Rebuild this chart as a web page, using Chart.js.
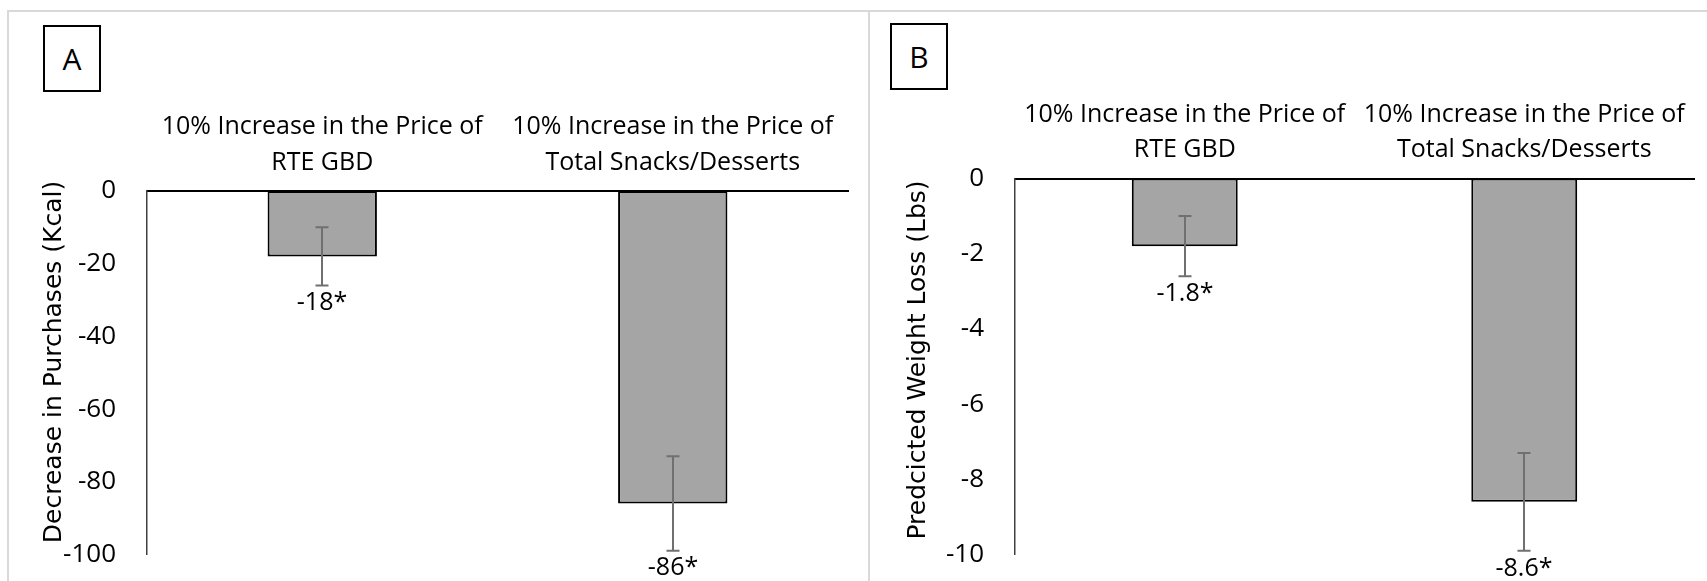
<!DOCTYPE html>
<html><head><meta charset="utf-8">
<script src="https://cdn.jsdelivr.net/npm/chart.js@4.4.0/dist/chart.umd.min.js"></script>
<style>
html,body{margin:0;padding:0;background:#fff;width:1707px;height:581px;overflow:hidden;position:relative}
.frame{position:absolute;background:#d9d9d9}
.tag{position:absolute;border:2.5px solid #000;box-sizing:border-box;font-family:'Open Sans',sans-serif;font-size:30px;display:flex;align-items:center;justify-content:center;background:#fff;color:#000}
canvas{position:absolute;top:0}
</style></head><body>
<canvas id="cA" width="869" height="581" style="left:0"></canvas>
<canvas id="cB" width="838" height="581" style="left:869px"></canvas>
<div class="frame" style="left:7px;top:10px;width:1700px;height:2px"></div>
<div class="frame" style="left:7px;top:10px;width:2px;height:571px"></div>
<div class="frame" style="left:868px;top:10px;width:2px;height:571px"></div>
<div class="tag" style="left:43px;top:25px;width:58px;height:67px">A</div>
<div class="tag" style="left:890px;top:23px;width:58px;height:67px">B</div>
<script>
// ---- data ----
const categories = [["10% Increase in the Price of", "RTE GBD"], ["10% Increase in the Price of", "Total Snacks/Desserts"]];
const kcalValues = [-18, -86];
const kcalErrors = [8, 13];
const kcalLabels = ["-18*", "-86*"];
const kcalAxis = {min: -100, max: 0, step: 20, title: "Decrease in Purchases (Kcal)"};
const lbsValues = [-1.8, -8.6];
const lbsErrors = [0.8, 1.3];
const lbsLabels = ["-1.8*", "-8.6*"];
const lbsAxis = {min: -10, max: 0, step: 2, title: "Predcicted Weight Loss (Lbs)"};

const errorBarPlugin = {
  id: 'errbars',
  afterDatasetsDraw(chart, args, opts) {
    const ctx = chart.ctx;
    const meta = chart.getDatasetMeta(0);
    const ys = chart.scales.y;
    const ds = chart.data.datasets[0];
    ctx.save();
    meta.data.forEach((bar, i) => {
      const v = ds.data[i], e = opts.errors[i];
      const yTop = ys.getPixelForValue(v + e), yBot = ys.getPixelForValue(v - e);
      const x = Math.round(bar.x);
      ctx.strokeStyle = '#707070';
      ctx.lineWidth = 2;
      ctx.beginPath();
      ctx.moveTo(x, yTop); ctx.lineTo(x, yBot);
      ctx.moveTo(x - 6.5, yTop); ctx.lineTo(x + 6.5, yTop);
      ctx.moveTo(x - 6.5, yBot); ctx.lineTo(x + 6.5, yBot);
      ctx.stroke();
      ctx.fillStyle = '#000';
      ctx.font = "25px 'Open Sans'";
      ctx.textAlign = 'center';
      ctx.textBaseline = 'middle';
      ctx.fillText(opts.labels[i], x, yBot + opts.gap);
    });
    ctx.restore();
  }
};

const yTitlePlugin = {
  id: 'ytitle',
  afterDraw(chart, args, opts) {
    const ctx = chart.ctx;
    ctx.save();
    ctx.translate(opts.x, opts.y);
    ctx.rotate(-Math.PI / 2);
    ctx.font = "25px 'DejaVu Sans'";
    ctx.fillStyle = '#000';
    ctx.textAlign = 'center';
    ctx.textBaseline = 'alphabetic';
    ctx.fillText(opts.text, 0, 0);
    ctx.restore();
  }
};

function makeChart(id, values, errors, labels, axis, L) {
  return new Chart(document.getElementById(id), {
    type: 'bar',
    data: {
      labels: categories,
      datasets: [{
        data: values,
        backgroundColor: '#a5a5a5',
        borderColor: '#000',
        borderWidth: 2,
        borderSkipped: false,
        categoryPercentage: 1,
        barPercentage: 0.312
      }]
    },
    plugins: [errorBarPlugin, yTitlePlugin],
    options: {
      responsive: false,
      animation: false,
      devicePixelRatio: 1,
      layout: {padding: {left: 0, top: 0, right: L.padRight, bottom: L.padBottom}},
      plugins: {
        legend: {display: false},
        tooltip: {enabled: false},
        errbars: {errors: errors, labels: labels, gap: L.gap},
        ytitle: {text: axis.title, x: L.titleX, y: L.titleY}
      },
      scales: {
        x: {
          position: 'top',
          grid: {display: false, drawTicks: false},
          border: {display: true, color: '#000', width: 2},
          ticks: {
            color: '#000', padding: L.xPad, maxRotation: 0, autoSkip: false,
            font: {family: "'Open Sans'", size: 25, lineHeight: L.lh + 'px'}
          },
          afterFit(s) { s.height = L.top; s.paddingLeft = 0; s.paddingRight = 0; }
        },
        y: {
          min: axis.min, max: axis.max,
          grid: {display: false, drawTicks: false},
          border: {display: true, color: '#404040', width: 1.5},
          ticks: {
            stepSize: axis.step, color: '#000', padding: 31,
            font: {family: "'Open Sans'", size: 26}
          },
          afterFit(s) { s.width = L.left; s.paddingTop = 0; s.paddingBottom = 0; }
        }
      }
    }
  });
}

makeChart('cA', kcalValues, kcalErrors, kcalLabels, kcalAxis,
  {left: 147, top: 191, padRight: 21, padBottom: 26.5, xPad: 10.5, lh: 36, gap: 17, titleX: 61, titleY: 362});
makeChart('cB', lbsValues, lbsErrors, lbsLabels, lbsAxis,
  {left: 146, top: 178.5, padRight: 13, padBottom: 26.5, xPad: 11, lh: 35, gap: 18, titleX: 56, titleY: 360});
</script>
</body></html>
